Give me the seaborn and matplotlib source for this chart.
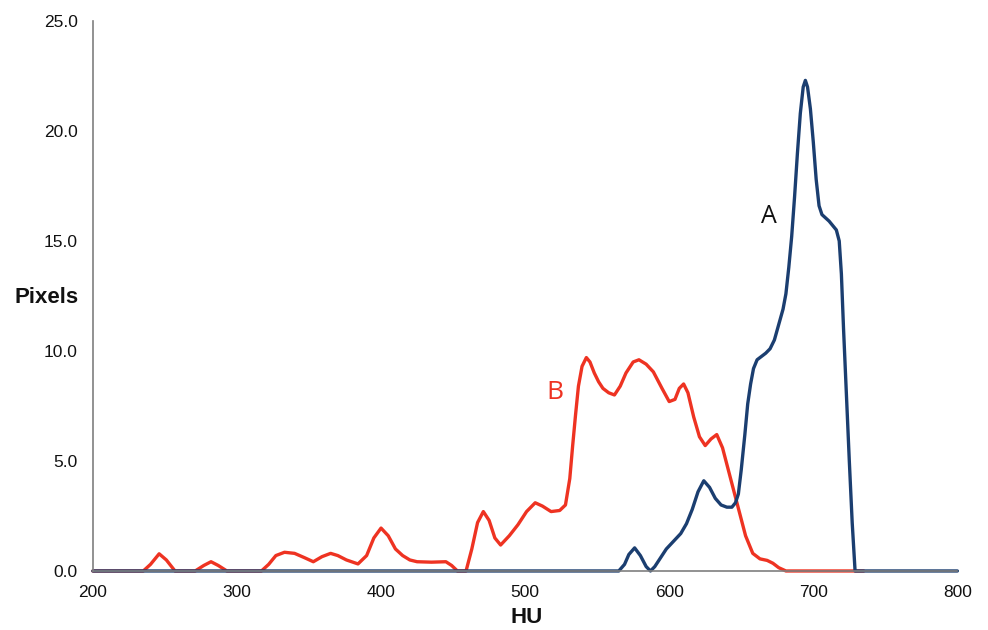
import matplotlib
matplotlib.use("Agg")
import matplotlib.pyplot as plt
import seaborn as sns
import pandas as pd

# ---- data ----
hu_b = [200, 235, 240, 246, 251, 257, 271, 277, 282, 287, 293, 317, 322, 327, 333, 340,
        347, 353, 359, 365, 370, 376, 384, 390, 395, 400, 405, 410, 415, 420, 425, 435,
        445, 449, 453, 459, 463, 467, 471, 475, 479, 483, 489, 495, 501, 507, 512, 518,
        524, 528, 531, 533, 535, 537, 539.5, 542.5, 545, 548, 551, 554, 558, 562, 566,
        570, 575, 579, 584, 589, 595, 600, 604, 607, 610, 613, 617, 621, 625, 629, 633,
        637, 641, 645, 649, 653, 658, 663, 668, 672, 676, 681, 735]
px_b = [0, 0, 0.3, 0.78, 0.5, 0, 0, 0.25, 0.42, 0.25, 0, 0, 0.3, 0.7, 0.85, 0.8,
        0.6, 0.42, 0.65, 0.8, 0.7, 0.5, 0.32, 0.7, 1.5, 1.95, 1.6, 1.0, 0.7, 0.5, 0.42, 0.40,
        0.42, 0.25, 0, 0, 1.0, 2.2, 2.7, 2.3, 1.5, 1.18, 1.6, 2.1, 2.7, 3.1, 2.95, 2.7,
        2.75, 3.0, 4.2, 5.7, 7.1, 8.4, 9.3, 9.7, 9.5, 9.0, 8.6, 8.3, 8.1, 8.0, 8.4,
        9.0, 9.5, 9.6, 9.4, 9.05, 8.3, 7.7, 7.8, 8.3, 8.5, 8.1, 7.0, 6.1, 5.7, 6.0, 6.2,
        5.6, 4.6, 3.6, 2.6, 1.6, 0.8, 0.55, 0.48, 0.35, 0.15, 0, 0]

hu_a = [200, 565, 569, 572, 576, 580, 584, 587, 590, 594, 598, 603, 608, 612, 616, 620,
        624, 628, 632, 636, 640, 643.5, 646, 648, 650, 652.5, 654.5, 656.5, 658.5, 661,
        664, 667, 670, 673, 676, 679, 681, 683, 685, 687, 689, 691, 693, 694.5, 696, 698,
        700, 702, 704, 706, 711, 716, 718, 719.5, 721, 723, 725, 727, 729, 800]
px_a = [0, 0, 0.3, 0.75, 1.05, 0.7, 0.2, 0, 0.2, 0.6, 1.0, 1.35, 1.7, 2.15, 2.8, 3.6,
        4.1, 3.8, 3.3, 3.0, 2.9, 2.9, 3.1, 3.5, 4.6, 6.2, 7.6, 8.5, 9.2, 9.6,
        9.75, 9.9, 10.1, 10.5, 11.2, 11.9, 12.6, 13.8, 15.2, 17.0, 19.0, 20.8, 22.0, 22.3, 22.0, 21.0,
        19.5, 17.8, 16.6, 16.2, 15.9, 15.5, 15.0, 13.5, 11.0, 8.0, 5.0, 2.2, 0, 0]

x_ticks = [200, 300, 400, 500, 600, 700, 800]
y_ticks = [0, 5, 10, 15, 20, 25]

RED = "#ee3322"
BLUE = "#1b3e70"
GRAY = "#7f7f7f"

sns.set_theme(style="white")
plt.rcParams["font.family"] = ["Liberation Sans", "DejaVu Sans"]

fig = plt.figure(figsize=(9.88, 6.3), dpi=100)
ax = fig.add_axes([0.094, 0.0937, 0.875, 0.873])

df_b = pd.DataFrame({"HU": hu_b, "Pixels": px_b})
df_a = pd.DataFrame({"HU": hu_a, "Pixels": px_a})
sns.lineplot(data=df_b, x="HU", y="Pixels", ax=ax, color=RED, lw=2.4,
             estimator=None, sort=True)
sns.lineplot(data=df_a, x="HU", y="Pixels", ax=ax, color=BLUE, lw=2.4,
             estimator=None, sort=True)
for ln in ax.lines:
    ln.set_solid_joinstyle("round")
    ln.set_solid_capstyle("round")
    ln.set_clip_on(False)

ax.set_xlim(200, 800)
ax.set_ylim(0, 25)
ax.set_xticks(x_ticks)
ax.set_xticklabels([str(v) for v in x_ticks])
ax.set_yticks(y_ticks)
ax.set_yticklabels([f"{v:.1f}" for v in y_ticks])

for s in ["top", "right"]:
    ax.spines[s].set_visible(False)
for s in ["left", "bottom"]:
    ax.spines[s].set_color(GRAY)
    ax.spines[s].set_linewidth(1.2)
ax.tick_params(axis="both", which="major", direction="out", length=5, width=1.2,
               color=GRAY, labelsize=12.5, labelcolor="#111111")
ax.tick_params(axis="x", pad=5)
ax.tick_params(axis="y", pad=6)
ax.grid(False)

ax.set_xlabel("HU", fontsize=16, fontweight="bold", color="#111111")
ax.set_ylabel("Pixels", fontsize=16, fontweight="bold", color="#111111", rotation=0)
ax.yaxis.set_label_coords(-0.053, 0.498)
ax.xaxis.set_label_coords(0.502, -0.084)
ax.xaxis.label.set_va("center")
ax.yaxis.label.set_va("center")
ax.yaxis.label.set_ha("center")

ax.text(669.4, 16.1, "A", fontsize=18, color="#111111", ha="center", va="center",
        family=["Open Sans", "DejaVu Sans"])
ax.text(520.8, 8.1, "B", fontsize=19, color=RED, ha="center", va="center",
        family=["Open Sans", "DejaVu Sans"])

fig.savefig("out.png", dpi=100)
